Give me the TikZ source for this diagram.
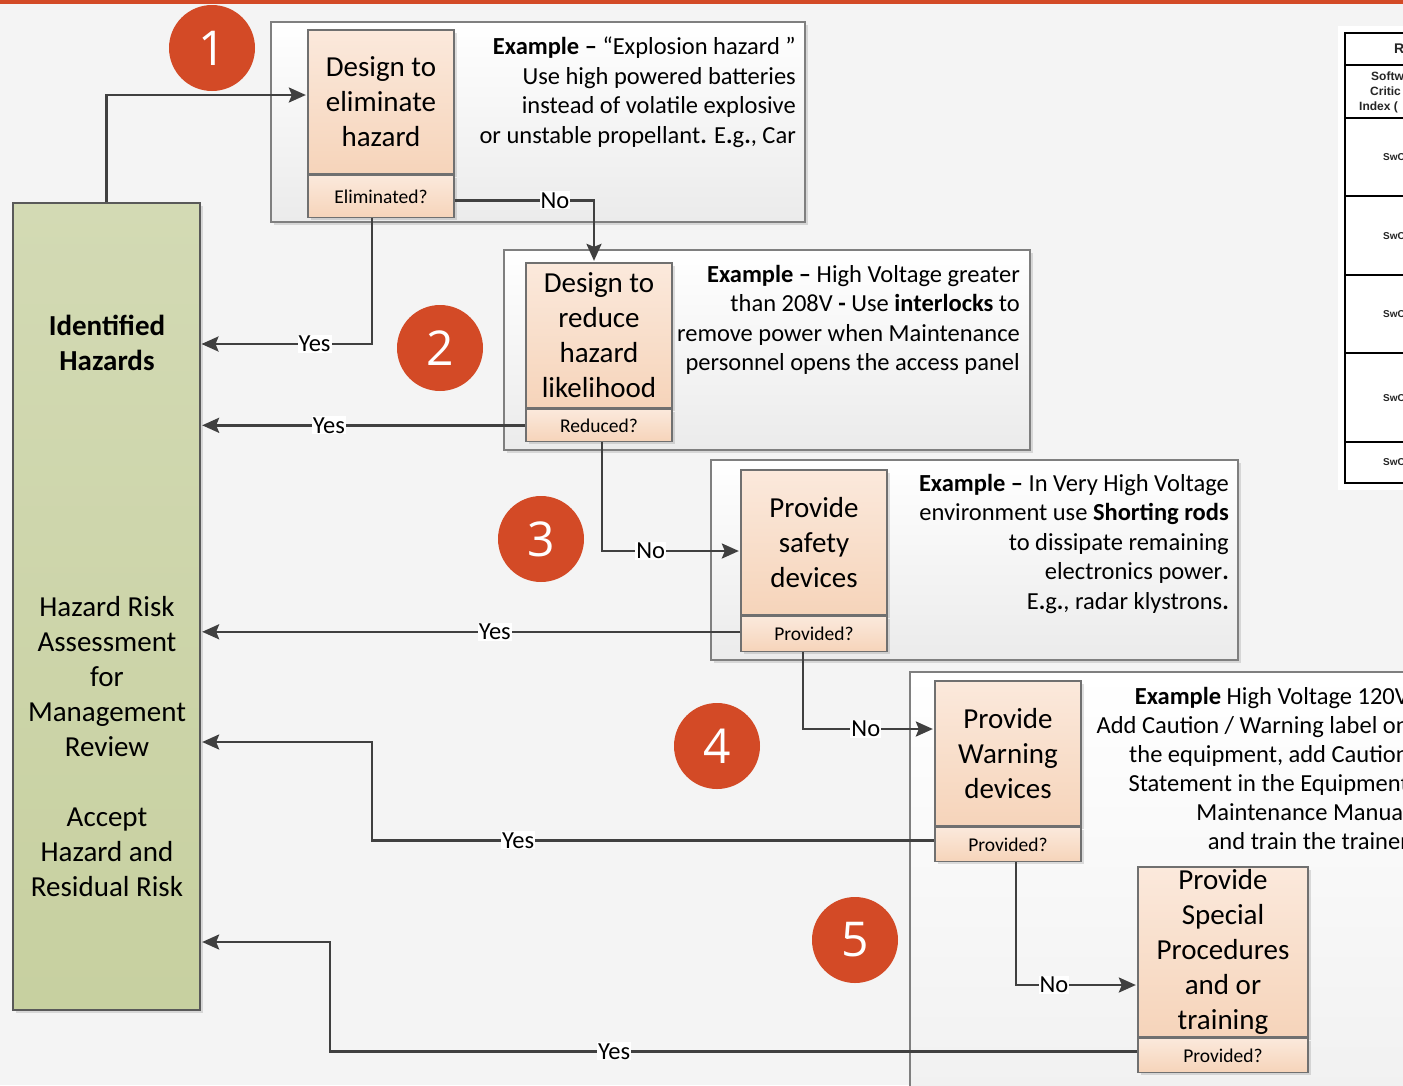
\documentclass[tikz,border=0pt]{standalone}
\usepackage{fontspec}
\setmainfont{Carlito}
\newfontfamily\numfont{Open Sans}
\newfontfamily\tablefont{Liberation Sans}
\usetikzlibrary{arrows.meta,shadows}

\definecolor{bg}{HTML}{F4F4F4}
\definecolor{accent}{HTML}{D34A26}
\definecolor{linegray}{HTML}{404040}
\definecolor{boxtop}{HTML}{FBE9DC}
\definecolor{boxbot}{HTML}{F6D4BA}
\definecolor{boxframe}{HTML}{707070}
\definecolor{greentop}{HTML}{D3DAB4}
\definecolor{greenbot}{HTML}{C7D0A0}
\definecolor{exframe}{HTML}{7F7F7F}
\definecolor{exbot}{HTML}{EBEBEB}

\newcommand\fMain{\fontsize{29}{35}\selectfont}
\newcommand\fEx{\fontsize{24.5}{29.5}\selectfont}
\newcommand\fAsk{\fontsize{19.5}{23}\selectfont}
\newcommand\fLbl{\fontsize{24.5}{28}\selectfont}
\newcommand\fNum{\numfont\fontsize{48}{48}\selectfont}
\newcommand\fTab{\tablefont\bfseries\fontsize{12}{16}\selectfont}

\begin{document}
\begin{tikzpicture}[x=1pt,y=-1pt,
  flow/.style={draw=linegray, line width=2.6pt,
    -{Stealth[length=17pt,width=15pt,inset=3pt]}, shorten >=1.5pt},
  lbl/.style={fill=white, inner sep=1pt, font=\fLbl, text=black},
  softshadow/.style={drop shadow={shadow xshift=3pt,shadow yshift=-3pt,opacity=.12,fill=black}},
  stepbox/.style={draw=boxframe, line width=1.3pt, top color=boxtop,
    bottom color=boxbot, minimum width=146pt, align=center, inner sep=0pt,
    font=\fMain, softshadow},
  askbox/.style={stepbox, font=\fAsk},
  exbox/.style={draw=exframe, line width=1.2pt, top color=white,
    bottom color=exbot, inner sep=0pt, softshadow},
  extext/.style={anchor=north east, align=right, inner sep=0pt, font=\fEx},
  numdot/.style={circle, fill=accent, minimum size=86pt, inner sep=0pt,
    text=white, font=\fNum},
  grouplbl/.style={align=center, font=\fMain, inner sep=0pt},
  tabtext/.style={anchor=west, inner sep=0pt, font=\fTab, text=black!85}
]
\useasboundingbox (0,0) rectangle (1403,1085);
\clip (0,0) rectangle (1403,1085);

% page background and top rule
\fill[bg] (0,0) rectangle (1403,1085);
\fill[accent] (0,0) rectangle (1403,3.5);

% criticality table at the right edge
\fill[white] (1338,26) rectangle (1420,490);
\draw[line width=2pt] (1345,33) rectangle (1430,483);
\draw[line width=1.4pt] (1345,65) -- (1430,65);
\draw[line width=2pt] (1345,118) -- (1430,118);
\foreach \yy in {196,275,353,442}
  \draw[line width=1.4pt] (1345,\yy) -- (1430,\yy);
\node[tabtext, font=\tablefont\bfseries\fontsize{14}{14}\selectfont] (thead) at (1394,49) {R};
\node[tabtext] (tsub1) at (1371,76) {Softw};
\node[tabtext] (tsub2) at (1370,91) {Critic};
\node[tabtext] (tsub3) at (1359,107) {Index (};
\foreach \yy/\nm in {157/r1,236/r2,314/r3,398/r4,462/r5}
  \node[tabtext, font=\tablefont\bfseries\fontsize{10}{12}\selectfont] (\nm) at (1383,\yy) {SwC};

% example panels
\node[exbox, minimum width=534pt, minimum height=200pt] (ex1) at (538,122) {};
\node[exbox, minimum width=526pt, minimum height=200pt] (ex2) at (767,350) {};
\node[exbox, minimum width=527pt, minimum height=200pt] (ex3) at (974.5,560) {};
\node[exbox, minimum width=600pt, minimum height=600pt] (ex4) at (1210,972) {};

\node[extext] (t1) at (796,37) {\textbf{Example –} “Explosion hazard ”\\
  Use high powered batteries\\ instead of volatile explosive\\
  or unstable propellant\textbf{.} E\textbf{.}g\textbf{.}, Car};
\node[extext] (t2) at (1020,265) {\textbf{Example –} High Voltage greater\\
  than 208V \textbf{-} Use \textbf{interlocks} to\\ remove power when Maintenance\\
  personnel opens the access panel};
\node[extext] (t3) at (1229,474) {\textbf{Example –} In Very High Voltage\\
  environment use \textbf{Shorting rods}\\ to dissipate remaining\\
  electronics power\textbf{.}\\ E\textbf{.}g\textbf{.}, radar klystrons\textbf{.}};
\node[extext, font=\fontsize{24.5}{29}\selectfont] (t4) at (1409,687) {\textbf{Example} High Voltage 120V\\
  Add Caution / Warning label on\\ the equipment, add Caution\\
  Statement in the Equipment\\ Maintenance Manual\\ and train the trainer};

% step numbers
\node[numdot] (c1) at (212,48) {1};
\node[numdot] (c2) at (440,348) {2};
\node[numdot] (c3) at (541,539) {3};
\node[numdot] (c4) at (717,746) {4};
\node[numdot] (c5) at (855,940) {5};

% hazard column
\node[draw=black!65, line width=1.3pt, top color=greentop, bottom color=greenbot,
  minimum width=187pt, minimum height=807pt, inner sep=0pt, softshadow]
  (gh) at (106.5,606.5) {};
\node[grouplbl, font=\fMain\bfseries] (g1) at (107,343) {Identified\\Hazards};
\node[grouplbl] (g2) at (107,677) {Hazard Risk\\Assessment\\for\\Management\\Review};
\node[grouplbl] (g3) at (107,852) {Accept\\Hazard and\\Residual Risk};

% mitigation steps
\node[stepbox, minimum height=144pt] (d1) at (381,102) {Design to\\eliminate\\hazard};
\node[askbox, minimum height=42pt, anchor=north] (q1) at (d1.south) {Eliminated?};
\node[stepbox, minimum height=145pt] (d2) at (599,335.5) {Design to\\reduce\\hazard\\likelihood};
\node[askbox, minimum height=32pt, anchor=north] (q2) at (d2.south) {Reduced?};
\node[stepbox, minimum height=145pt] (d3) at (814,542.5) {Provide\\safety\\devices};
\node[askbox, minimum height=35pt, anchor=north] (q3) at (d3.south) {Provided?};
\node[stepbox, minimum height=145pt] (d4) at (1008,753.5) {Provide\\Warning\\devices};
\node[askbox, minimum height=34pt, anchor=north] (q4) at (d4.south) {Provided?};
\node[stepbox, minimum width=170pt, minimum height=170pt] (d5) at (1223,952) {Provide\\Special\\Procedures\\and or\\training};
\node[askbox, minimum width=170pt, minimum height=34pt, anchor=north] (q5) at (d5.south) {Provided?};

% bend points of the return paths
\coordinate (in1) at (200,344);
\coordinate (b4) at (372,742);
\coordinate (b5) at (330,942);

% connectors
\draw[flow] (gh.north) |- ([yshift=7pt]d1.west);
\draw[flow] ([yshift=-4pt]q1.east) -| node[lbl,pos=0.36]{No} ([xshift=-5pt]d2.north);
\draw[flow] ([xshift=-9pt]q1.south) |- node[lbl,pos=0.667]{Yes} (in1);
\draw[flow] (q2.west) -- node[lbl,pos=0.605]{Yes} (q2.west -| gh.east);
\draw[flow] ([xshift=3pt]q2.south) |- node[lbl,pos=0.676]{No} ([yshift=-8.5pt]d3.west);
\draw[flow] ([yshift=2pt]q3.west) -- node[lbl,pos=0.455]{Yes} ([yshift=2pt]q3.west -| gh.east);
\draw[flow] ([xshift=-11pt]q3.south) |- node[lbl,pos=0.739]{No} ([yshift=24.5pt]d4.west);
\draw[flow] ([yshift=4pt]q4.west) -| node[lbl,pos=0.37]{Yes} (b4) -- (b4 -| gh.east);
\draw[flow] ([xshift=8pt]q4.south) |- node[lbl,pos=0.656]{No} ([yshift=-33pt]d5.west);
\draw[flow] ([yshift=4pt]q5.west) -| node[lbl,pos=0.324]{Yes} (b5) -- (b5 -| gh.east);
\end{tikzpicture}
\end{document}
